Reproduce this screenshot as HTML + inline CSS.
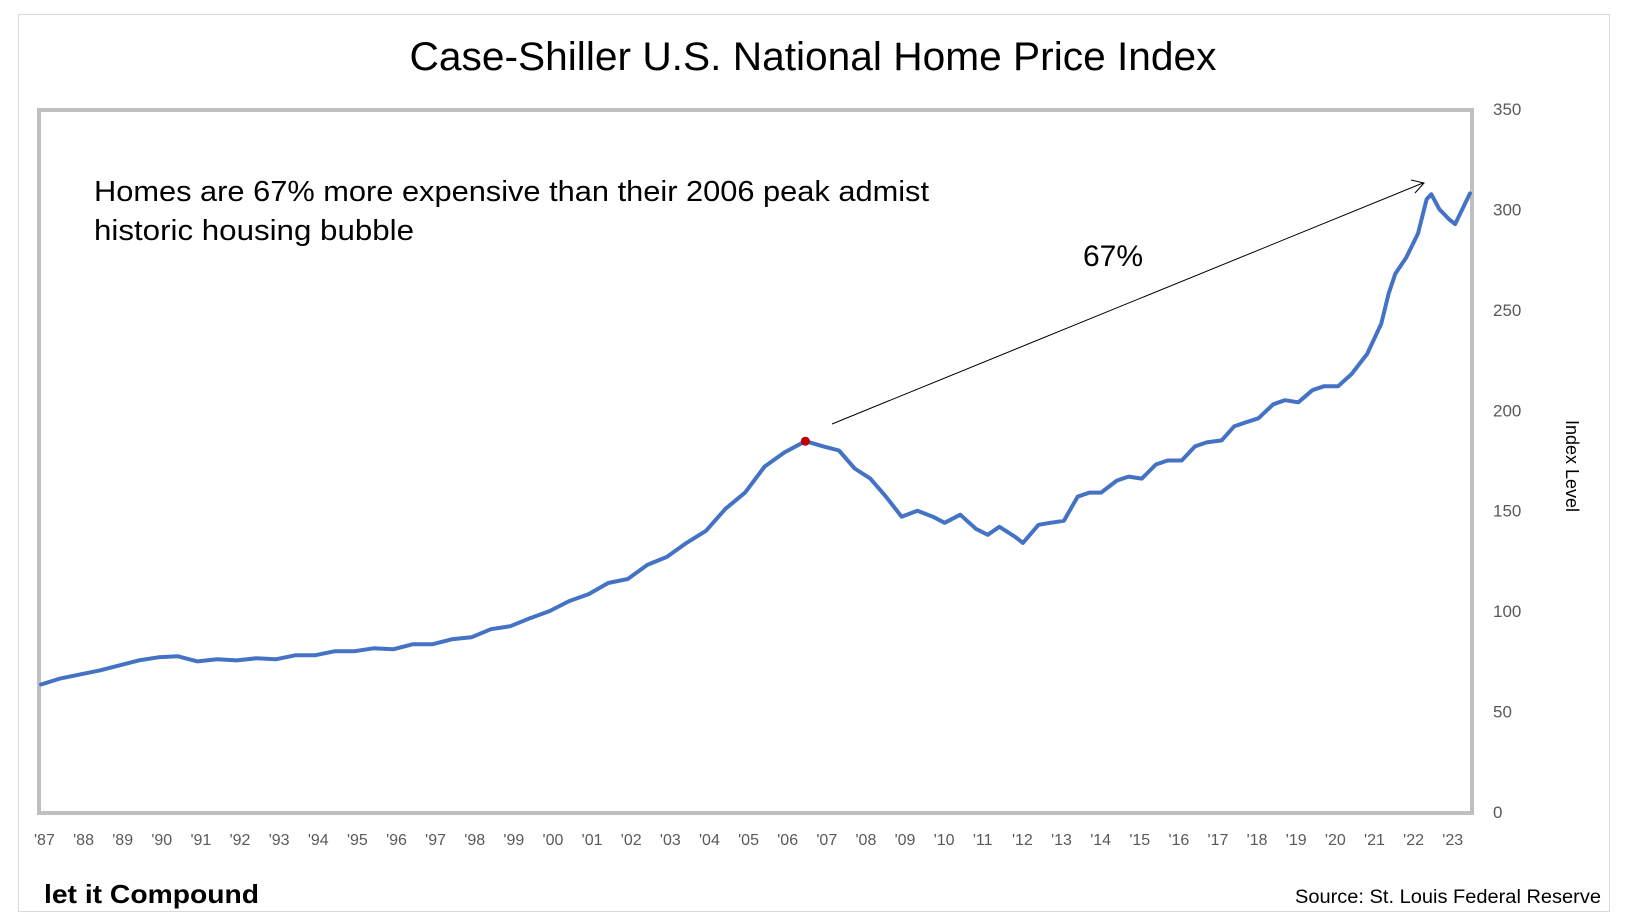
<!DOCTYPE html>
<html><head><meta charset="utf-8"><style>
html,body{margin:0;padding:0;background:#fff;}
svg{display:block;font-family:"Liberation Sans",sans-serif;}
</style></head><body>
<svg id="chart" width="1637" height="923" viewBox="0 0 1637 923">
<rect x="18.5" y="14.5" width="1591" height="897" fill="#fff" stroke="#d9d9d9"/>
<text x="813" y="70" text-anchor="middle" font-size="40" textLength="807" lengthAdjust="spacingAndGlyphs" fill="#000">Case-Shiller U.S. National Home Price Index</text>
<rect x="39" y="110" width="1433" height="703" fill="none" stroke="#bfbfbf" stroke-width="4"/>
<g id="yticks"></g>
<g id="xticks"></g>
<text transform="translate(1566,466) rotate(90)" text-anchor="middle" font-size="18" fill="#000">Index Level</text>
<polyline id="series" fill="none" stroke="#4472c4" stroke-width="4" stroke-linejoin="round" stroke-linecap="round"/>
<circle id="peak" r="4.5" fill="#c00000"/>
<line x1="832" y1="424" x2="1423" y2="183" stroke="#000" stroke-width="1"/>
<polyline points="1411,180 1424,183 1415,193" fill="none" stroke="#000" stroke-width="1"/>
<text x="1083" y="266" font-size="30" fill="#000">67%</text>
<text x="94" y="201" font-size="29" textLength="835" lengthAdjust="spacingAndGlyphs" fill="#000">Homes are 67% more expensive than their 2006 peak admist</text>
<text x="94" y="240" font-size="29" fill="#000" textLength="320" lengthAdjust="spacingAndGlyphs">historic housing bubble</text>
<text x="44" y="903" font-size="26" font-weight="bold" fill="#000" textLength="215" lengthAdjust="spacingAndGlyphs">let it Compound</text>
<text x="1601" y="903" text-anchor="end" font-size="19" textLength="306" lengthAdjust="spacingAndGlyphs" fill="#000">Source: St. Louis Federal Reserve</text>
</svg>
<script>
const years = [1987.0,1987.5,1988.0,1988.5,1989.0,1989.5,1990.0,1990.5,1991.0,1991.5,1992.0,1992.5,1993.0,1993.5,1994.0,1994.5,1995.0,1995.5,1996.0,1996.5,1997.0,1997.5,1998.0,1998.5,1999.0,1999.5,2000.0,2000.5,2001.0,2001.5,2002.0,2002.5,2003.0,2003.5,2004.0,2004.5,2005.0,2005.5,2006.0,2006.54,2007.0,2007.4,2007.8,2008.2,2008.6,2009.0,2009.4,2009.8,2010.1,2010.5,2010.9,2011.2,2011.5,2011.9,2012.1,2012.5,2012.8,2013.15,2013.5,2013.8,2014.1,2014.5,2014.8,2015.14,2015.5,2015.8,2016.16,2016.5,2016.8,2017.18,2017.5,2017.8,2018.12,2018.5,2018.8,2019.14,2019.5,2019.8,2020.16,2020.5,2020.9,2021.26,2021.45,2021.62,2021.9,2022.2,2022.42,2022.54,2022.75,2023.0,2023.15,2023.53];
const values = [63.5,66.5,68.5,70.5,73,75.5,77,77.5,75,76,75.5,76.5,76,78,78,80,80,81.5,81,83.5,83.5,86,87,91,92.5,96.5,100,105,108.5,114,116,123,127,134,140,151,159,172,179,184.6,182,180,171,166,157,147,150,147,144,148,141,138,142,137,134,143,144,145,157,159,159,165,167,166,173,175,175,182,184,185,192,194,196,203,205,204,210,212,212,218,228,243,258,268,276,288,305,307.6,300,295,292.7,308];
const yTicks = [0,50,100,150,200,250,300,350];
const xLabels = ["'87","'88","'89","'90","'91","'92","'93","'94","'95","'96","'97","'98","'99","'00","'01","'02","'03","'04","'05","'06","'07","'08","'09","'10","'11","'12","'13","'14","'15","'16","'17","'18","'19","'20","'21","'22","'23"];
const peakYear = 2006.54, peakValue = 184.6;

const X0=1987, X1=2023.53, PX0=41, PX1=1470;
const Y0=0, Y1=350, PY0=812, PY1=109;
function xs(t){return PX0+(t-X0)/(X1-X0)*(PX1-PX0);}
function ys(v){return PY0+(v-Y0)/(Y1-Y0)*(PY1-PY0);}
const NS='http://www.w3.org/2000/svg';
const yg=document.getElementById('yticks');
yTicks.forEach(v=>{
  const t=document.createElementNS(NS,'text');
  t.setAttribute('x',1493);t.setAttribute('y',ys(v)+6);
  t.setAttribute('font-size','17');t.setAttribute('fill','#595959');
  
  
  t.textContent=v;yg.appendChild(t);
});
const xg=document.getElementById('xticks');
xLabels.forEach((s,i)=>{
  const t=document.createElementNS(NS,'text');
  t.setAttribute('x',xs(1987+i)-7);t.setAttribute('y',845);
  t.setAttribute('font-size','16');t.setAttribute('fill','#595959');
  
  
  t.textContent=s;xg.appendChild(t);
});
document.getElementById('series').setAttribute('points',years.map((t,i)=>xs(t).toFixed(1)+','+ys(values[i]).toFixed(1)).join(' '));
const pk=document.getElementById('peak');
pk.setAttribute('cx',xs(peakYear));pk.setAttribute('cy',ys(peakValue));
</script>
</body></html>
